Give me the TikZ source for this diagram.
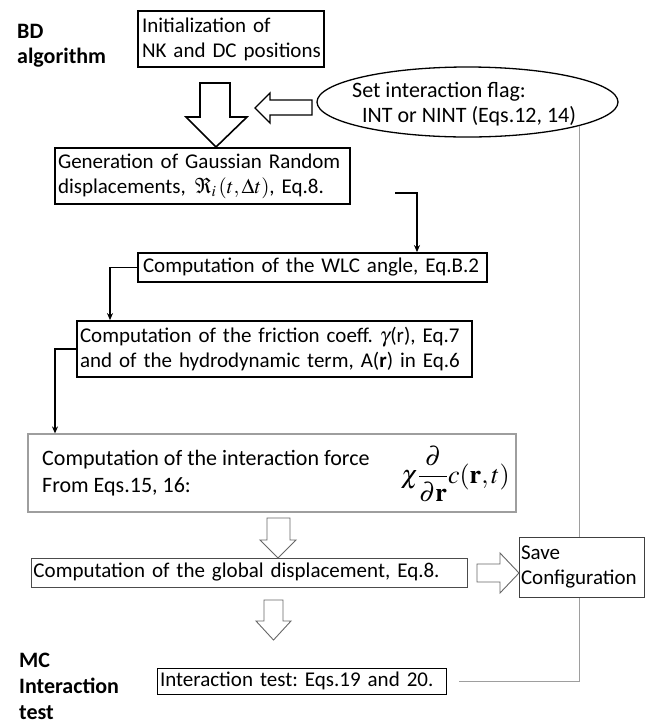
\documentclass[tikz,border=0pt]{standalone}
\usepackage{mathptmx}
\usepackage[no-math]{fontspec}
\setmainfont{Carlito}
\usetikzlibrary{shapes.geometric,arrows.meta}
\begin{document}
\frenchspacing
\begin{tikzpicture}[x=1pt,y=-1pt,
  every node/.style={font=\fontsize{22}{25}\selectfont\frenchspacing, inner ysep=0pt},
  thickbox/.style={draw=black, line width=1.8pt, align=left, anchor=center, font=\fontsize{21}{25}\selectfont\frenchspacing},
  thinbox/.style={draw=#1, line width=1pt, align=left, anchor=center, fill=white, font=\fontsize{21}{25}\selectfont\frenchspacing},
  lbl/.style={font=\fontsize{22}{25}\selectfont\bfseries, anchor=base west, inner sep=0pt},
  txt/.style={anchor=base west, inner sep=0pt},
  conn/.style={line width=1.8pt, -{Stealth[length=7pt,width=6pt]}},
  hollow/.style={draw=black, line width=1.6pt, fill=white, line join=miter},
  hollowthin/.style={draw=black!60, line width=0.9pt, fill=white, line join=miter},
  grayline/.style={draw=black!38, line width=1pt}
]
\useasboundingbox (0,0) rectangle (645,724);

% side labels
\node[lbl] (bd1) at (17,38) {BD};
\node[lbl] (bd2) at (17,63) {algorithm};
\node[lbl] (mc1) at (19,667) {MC};
\node[lbl] (mc2) at (19,693) {Interaction};
\node[lbl] (mc3) at (19,719) {test};

% boxes
\node[thickbox, inner xsep=4pt, text width=178pt, minimum height=56pt] (init) at (231,39)
  {\mbox{Initialization of}\\\mbox{NK and DC positions}};
\node[thickbox, inner xsep=3pt, text width=289pt, minimum height=56pt] (gen) at (202.5,176)
  {\mbox{Generation of Gaussian Random}\\\mbox{displacements,\hspace{9pt}$\Re_{i}\,(t,\Delta t)$, Eq.8.}};
\node[thickbox, inner xsep=5pt, text width=339pt, minimum height=29pt] (wlc) at (312.5,267.5)
  {\mbox{Computation of the WLC angle, Eq.B.2}};
\node[thickbox, inner xsep=3pt, text width=389pt, minimum height=56pt] (fric) at (274.5,349)
  {\mbox{Computation of the friction coeff.\hspace{7pt}$\gamma$(r), Eq.7}\\\mbox{and\hspace{7pt}of the hydrodynamic term, A(\textbf{r}) in Eq.6}};

\node[draw=black!38, line width=1.2pt, minimum width=488pt, minimum height=78pt, inner sep=0pt] (intf) at (272,473) {};
\node[txt] (intf1) at (42,465) {Computation of the interaction force};
\node[txt] (intf2) at (42,492) {From Eqs.15, 16:};
\node[anchor=east, inner sep=0pt, font=\fontsize{26}{30}\selectfont] (formula) at (510,474)
  {$\displaystyle\chi\frac{\partial}{\partial\mathbf{r}}c(\mathbf{r},t)$};

% ellipse
\node[ellipse, draw=black, line width=1.3pt, minimum width=301pt, minimum height=70pt, inner sep=0pt] (ell) at (467.5,102) {};
\node[txt] (ell1) at (352,97) {Set interaction flag:};
\node[txt] (ell2) at (362,122) {INT or NINT (Eqs.12, 14)};

% feedback gray line
\node[thinbox=black, inner xsep=3pt, text width=283pt, minimum height=26pt] (test) at (301.5,681)
  {\mbox{Interaction test: Eqs.19 and 20.}};
\draw[grayline] (ell.-12.8) -- (ell.-12.8 |- test.east) -- ([xshift=12pt]test.east);

\node[thinbox=black!70, inner xsep=2.5pt, text width=431pt, minimum height=29pt] (glob) at (249,572.5)
  {\mbox{Computation of the global displacement, Eq.8.}};
\node[thinbox=black!75, inner xsep=1.5pt, text width=122pt, minimum height=60pt] (save) at (582,567)
  {\mbox{Save}\\\mbox{Configuration}};

% big hollow arrows
\draw[hollow] (200,83) -- (230,83) -- (230,117) -- (247,117) -- (216,147) -- (186,117) -- (200,117) -- cycle;
\draw[hollow, line width=1.3pt] (312,100) -- (312,115) -- (270,115) -- (270,123) -- (255,108) -- (270,93) -- (270,100) -- cycle;

% small hollow arrows
\draw[hollowthin] (267,518) -- (290,518) -- (290,540) -- (296,540) -- (278,558) -- (260,540) -- (267,540) -- cycle;
\draw[hollowthin] (264,600) -- (283,600) -- (283,621) -- (291,621) -- (273.5,640) -- (256,621) -- (264,621) -- cycle;
\draw[hollowthin] (477,564) -- (500,564) -- (500,553) -- (519,573) -- (500,593) -- (500,582) -- (477,582) -- cycle;

% elbow connectors
\coordinate (e1) at (395,193);
\draw[conn] (e1) -| ([xshift=104.5pt]wlc.north);
\draw[conn] (wlc.west) -| ([xshift=-164.5pt]fric.north);
\draw[conn] (fric.west) -| ([xshift=-217pt]intf.north);
\end{tikzpicture}
\end{document}
